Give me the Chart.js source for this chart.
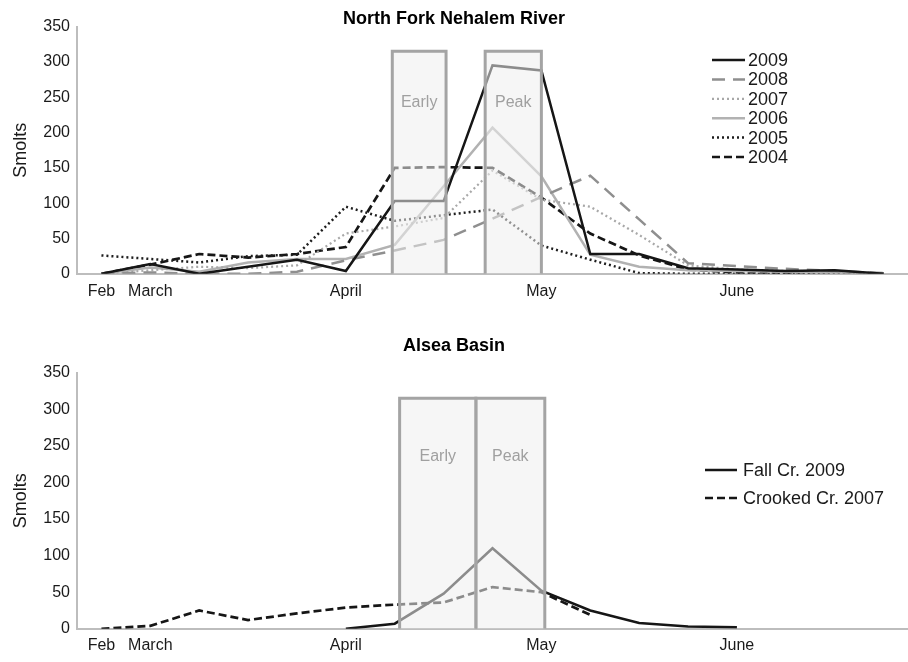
<!DOCTYPE html>
<html>
<head>
<meta charset="utf-8">
<script src="https://cdn.jsdelivr.net/npm/chart.js@4.4.1/dist/chart.umd.min.js"></script>
<style>
    body { margin: 0; background: #fff; }
    canvas { display: block; }
</style>
</head>
<body>
<canvas id="nehalem-canvas" width="908" height="309"></canvas>
<canvas id="alsea-canvas" width="908" height="353"></canvas>
<script>
// weekly samples, Feb through end of June
const weeks = ['Feb', 'March', '', '', '', 'April', '', '', '', 'May', '', '', '', 'June', '', '', ''];
const labelledWeeks = [0, 1, 5, 9, 13];

// North Fork Nehalem River
const nehalem2009 = [0, 14, 0, 10, 20, 4, 103, 103, 295, 288, 28, 28, 8, 6, 4, 5, 0];
const nehalem2008 = [0, 2, 0, 0, 3, 19, 33, 48, 78, 109, 139, 77, 15, 11, 7, 4, 1];
const nehalem2007 = [0, 5, 10, 8, 12, 57, 67, 79, 146, 105, 95, 55, 12, 6, 4, 3, 0];
const nehalem2006 = [0, 9, 3, 16, 21, 21, 41, 124, 207, 138, 27, 10, 5, 4, 3, 2, 0];
const nehalem2005 = [26, 21, 16, 25, 27, 95, 75, 83, 91, 40, 20, 1, 0, 0, 0, 0, 0];
const nehalem2004 = [0, 13, 28, 23, 28, 38, 150, 151, 150, 108, 57, 26, 6, 2, 2, 3, 0];

// Alsea Basin
const fallCr2009 = [null, null, null, null, null, 0, 7, 48, 110, 52, 25, 8, 3, 2, null, null, null];
const crookedCr2007 = [0, 4, 25, 12, 21, 29, 33, 36, 57, 50, 19, null, null, null, null, null, null];

// early / peak migration windows, in week units
const nehalemEarly = [5.95, 7.05];
const nehalemPeak = [7.85, 9.0];
const alseaEarly = [6.1, 7.66];
const alseaPeak = [7.66, 9.07];
const windowTop = 315;

Chart.defaults.font.family = '"Liberation Sans", Arial, sans-serif';
Chart.defaults.color = '#1a1a1a';

function toPoints(values) {
    return values.map((v, i) => ({x: i, y: v}));
}

function series(label, values, color, dash, width) {
    return {
        label: label,
        data: toPoints(values),
        borderColor: color,
        borderDash: dash,
        borderWidth: width,
        pointRadius: 0,
        tension: 0,
        fill: false,
        order: 2
    };
}

function windowBox(label, range) {
    return {
        label: label,
        isBox: true,
        data: [
            {x: range[0], y: 0},
            {x: range[0], y: windowTop},
            {x: range[1], y: windowTop},
            {x: range[1], y: 0}
        ],
        borderColor: '#a4a4a4',
        borderWidth: 3,
        borderJoinStyle: 'miter',
        backgroundColor: 'rgba(238,238,238,0.55)',
        fill: 'origin',
        pointRadius: 0,
        tension: 0,
        order: 1
    };
}

const sideLegend = {
    id: 'sideLegend',
    afterDraw(chart, args, opts) {
        const ctx = chart.ctx;
        let y = opts.top;
        ctx.save();
        chart.data.datasets.forEach((ds) => {
            if (ds.isBox) return;
            ctx.beginPath();
            ctx.setLineDash(ds.borderDash || []);
            ctx.lineWidth = ds.borderWidth;
            ctx.strokeStyle = ds.borderColor;
            ctx.moveTo(opts.left, y);
            ctx.lineTo(opts.left + opts.sample, y);
            ctx.stroke();
            ctx.setLineDash([]);
            ctx.fillStyle = '#1a1a1a';
            ctx.font = '18px "Liberation Sans", Arial, sans-serif';
            ctx.textBaseline = 'middle';
            ctx.textAlign = 'left';
            ctx.fillText(ds.label, opts.left + opts.sample + opts.gap, y + 1);
            y += opts.row;
        });
        ctx.restore();
    }
};

const boxLabels = {
    id: 'boxLabels',
    afterDatasetsDraw(chart, args, opts) {
        const ctx = chart.ctx;
        const xs = chart.scales.x;
        const ys = chart.scales.y;
        ctx.save();
        ctx.fillStyle = '#a0a0a0';
        ctx.font = '16px "Liberation Sans", Arial, sans-serif';
        ctx.textAlign = 'center';
        ctx.textBaseline = 'middle';
        chart.data.datasets.forEach((ds) => {
            if (!ds.isBox) return;
            let cx = xs.getPixelForValue((ds.data[0].x + ds.data[2].x) / 2);
            ctx.fillText(ds.label, cx, ys.getPixelForValue(opts.value));
        });
        ctx.restore();
    }
};

function scales(tickPadding) {
    return {
        x: {
            type: 'linear',
            min: -0.5,
            max: 16.5,
            grid: {display: false, drawTicks: false},
            border: {display: true, color: '#bdbdbd', width: 2},
            afterBuildTicks: (scale) => {
                scale.ticks = labelledWeeks.map((v) => ({value: v}));
            },
            ticks: {
                autoSkip: false,
                maxRotation: 0,
                padding: tickPadding,
                font: {size: 16},
                callback: (v) => weeks[v]
            }
        },
        y: {
            min: 0,
            max: 350,
            grid: {display: false, drawTicks: false},
            border: {display: true, color: '#bdbdbd', width: 2},
            afterFit: (scale) => { scale.width = 77; },
            ticks: {stepSize: 50, padding: 7, font: {size: 16}},
            title: {
                display: true,
                text: 'Smolts',
                font: {size: 18},
                padding: {top: 10, bottom: 0}
            }
        }
    };
}

function drawNehalem() {
    const ctx = document.getElementById('nehalem-canvas');

    new Chart(ctx, {
        type: 'line',
        data: {
            datasets: [
                series('2009', nehalem2009, '#161616', [], 2.5),
                series('2008', nehalem2008, '#8f8f8f', [13, 8], 2.5),
                series('2007', nehalem2007, '#a8a8a8', [2, 3], 2.2),
                series('2006', nehalem2006, '#b2b2b2', [], 2.5),
                series('2005', nehalem2005, '#1e1e1e', [2, 3], 2.5),
                series('2004', nehalem2004, '#161616', [8, 4], 2.7),
                windowBox('Early', nehalemEarly),
                windowBox('Peak', nehalemPeak)
            ]
        },
        options: {
            responsive: false,
            animation: false,
            layout: {padding: {left: 0, right: 0, top: 0, bottom: 0}},
            scales: scales(8),
            plugins: {
                legend: {display: false},
                tooltip: {enabled: false},
                title: {
                    display: true,
                    text: 'North Fork Nehalem River',
                    color: '#000',
                    font: {size: 18, weight: 'bold'},
                    padding: {top: 8, bottom: -3}
                },
                sideLegend: {left: 712, top: 60, sample: 33, gap: 3, row: 19.4},
                boxLabels: {value: 242}
            }
        },
        plugins: [boxLabels, sideLegend]
    });
}

function drawAlsea() {
    const ctx = document.getElementById('alsea-canvas');

    new Chart(ctx, {
        type: 'line',
        data: {
            datasets: [
                series('Fall Cr. 2009', fallCr2009, '#161616', [], 2.5),
                series('Crooked Cr. 2007', crookedCr2007, '#161616', [8, 4], 2.7),
                windowBox('Early', alseaEarly),
                windowBox('Peak', alseaPeak)
            ]
        },
        options: {
            responsive: false,
            animation: false,
            layout: {padding: {left: 0, right: 0, top: 0, bottom: 0}},
            scales: scales(7),
            plugins: {
                legend: {display: false},
                tooltip: {enabled: false},
                title: {
                    display: true,
                    text: 'Alsea Basin',
                    color: '#000',
                    font: {size: 18, weight: 'bold'},
                    padding: {top: 26, bottom: 16}
                },
                sideLegend: {left: 705, top: 161, sample: 32, gap: 6, row: 28},
                boxLabels: {value: 235}
            }
        },
        plugins: [boxLabels, sideLegend]
    });
}

drawNehalem();
drawAlsea();
</script>
</body>
</html>
